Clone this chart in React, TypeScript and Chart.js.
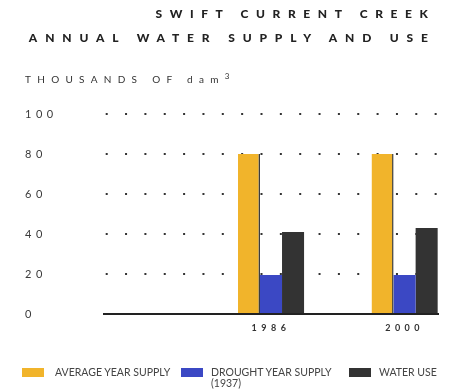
import React, { useEffect, useRef } from "react";
import { Chart, registerables } from "chart.js";

Chart.register(...registerables);

const years = ["1986", "2000"];
const averageYearSupply = [80, 80];
const droughtYearSupply = [19.5, 19.5];
const waterUse = [41, 43];
const yTicks = [0, 20, 40, 60, 80, 100];
const leadingSlots = 2; // empty category slots before the first year

const COLORS = { avg: "#F1B42B", drought: "#3B48C4", use: "#333333" };
const FONT = "Lato, 'Open Sans', sans-serif";

function slotLabels(): string[] {
  const out: string[] = [];
  for (let i = 0; i < leadingSlots; i++) out.push("");
  years.forEach((y, i) => {
    out.push(y);
    if (i < years.length - 1) out.push("");
  });
  return out;
}
function slotData(values: number[]): (number | null)[] {
  const out: (number | null)[] = [];
  for (let i = 0; i < leadingSlots; i++) out.push(null);
  values.forEach((v, i) => {
    out.push(v);
    if (i < values.length - 1) out.push(null);
  });
  return out;
}

// letter-spaced axis labels, like the printed original
const spacingPlugin = {
  id: "tickSpacing",
  beforeDraw(chart: any) {
    chart.ctx.letterSpacing = "4.5px";
  },
  beforeDatasetsDraw(chart: any) {
    chart.ctx.letterSpacing = "0px";
  },
  afterDatasetsDraw(chart: any) {
    chart.ctx.letterSpacing = "4.5px";
  },
  afterDraw(chart: any) {
    chart.ctx.letterSpacing = "0px";
  },
};

export default function App() {
  const ref = useRef<HTMLCanvasElement | null>(null);
  useEffect(() => {
    document.body.style.margin = "0";
    const canvas = ref.current!;
    const chart = new Chart(canvas, {
      type: "bar",
      plugins: [spacingPlugin],
      data: {
        labels: slotLabels(),
        datasets: [
          {
            label: "AVERAGE YEAR SUPPLY",
            data: slotData(averageYearSupply),
            backgroundColor: COLORS.avg,
            borderColor: "#3a3a3a",
            borderWidth: { top: 0, left: 0, bottom: 0, right: 1.5 },
            borderSkipped: false,
          },
          {
            label: "DROUGHT YEAR SUPPLY (1937)",
            data: slotData(droughtYearSupply),
            backgroundColor: COLORS.drought,
            borderWidth: 0,
          },
          {
            label: "WATER USE",
            data: slotData(waterUse),
            backgroundColor: COLORS.use,
            borderWidth: 0,
          },
        ],
      },
      options: {
        animation: false,
        responsive: false,
        maintainAspectRatio: false,
        layout: { padding: { left: 25, top: 114, right: 11, bottom: 0 } },
        datasets: { bar: { categoryPercentage: 0.99, barPercentage: 1, skipNull: true } },
        plugins: { legend: { display: false }, tooltip: { enabled: false }, title: { display: false } },
        scales: {
          x: {
            grid: { display: false, drawTicks: false },
            border: { display: true, color: "#222", width: 2 },
            ticks: {
              padding: 9,
              color: "#333",
              font: { family: FONT, size: 9, weight: "bold" },
            },
            afterFit: (s: any) => {
              s.height = 78;
            },
          },
          y: {
            min: 0,
            max: 100,
            afterBuildTicks: (s: any) => {
              s.ticks = yTicks.map((v) => ({ value: v }));
            },
            grid: {
              drawTicks: false,
              lineWidth: 2,
              color: (c: any) => (c.tick && c.tick.value === 0 ? "rgba(0,0,0,0)" : "#333"),
            },
            border: { display: false, dash: [2, 17.35], dashOffset: -1.7 },
            ticks: {
              crossAlign: "far",
              padding: 0,
              color: "#3a3a3a",
              font: { family: FONT, size: 11 },
            },
            afterFit: (s: any) => {
              s.width = 79;
            },
          },
        },
      },
    } as any);
    return () => chart.destroy();
  }, []);

  const titleStyle: React.CSSProperties = {
    position: "absolute",
    right: 13.5,
    fontFamily: FONT,
    fontWeight: 900,
    fontSize: 12,
    letterSpacing: 7.6,
    lineHeight: "12px",
    color: "#222",
    whiteSpace: "nowrap",
  };
  const box = (c: string): React.CSSProperties => ({
    position: "absolute",
    width: 22,
    height: 9,
    background: c,
    top: 368,
  });
  const legText: React.CSSProperties = {
    position: "absolute",
    top: 367,
    fontFamily: FONT,
    fontSize: 10.5,
    lineHeight: "11px",
    color: "#444",
    whiteSpace: "nowrap",
  };

  return (
    <div style={{ position: "relative", width: 449, height: 392, background: "#fff", overflow: "hidden" }}>
      <canvas ref={ref} width={449} height={392} style={{ position: "absolute", left: 0, top: 0 }} />
      <div style={{ ...titleStyle, top: 8 }}>SWIFT CURRENT CREEK</div>
      <div style={{ ...titleStyle, top: 32, right: 13.2, letterSpacing: 7.85 }}>ANNUAL WATER SUPPLY AND USE</div>
      <div
        style={{
          position: "absolute",
          left: 25,
          top: 71,
          fontFamily: FONT,
          fontSize: 10,
          letterSpacing: 6.3,
          lineHeight: "11px",
          color: "#333",
          whiteSpace: "nowrap",
        }}
      >
        THOUSANDS OF dam<sup style={{ fontSize: 8, verticalAlign: "4px", letterSpacing: 0 }}>3</sup>
      </div>
      <div style={{ ...box(COLORS.avg), left: 22 }} />
      <div style={{ ...legText, left: 55 }}>AVERAGE YEAR SUPPLY</div>
      <div style={{ ...box(COLORS.drought), left: 181 }} />
      <div style={{ ...legText, left: 211 }}>
        DROUGHT YEAR SUPPLY
        <br />
        (1937)
      </div>
      <div style={{ ...box(COLORS.use), left: 349 }} />
      <div style={{ ...legText, left: 379 }}>WATER USE</div>
    </div>
  );
}
